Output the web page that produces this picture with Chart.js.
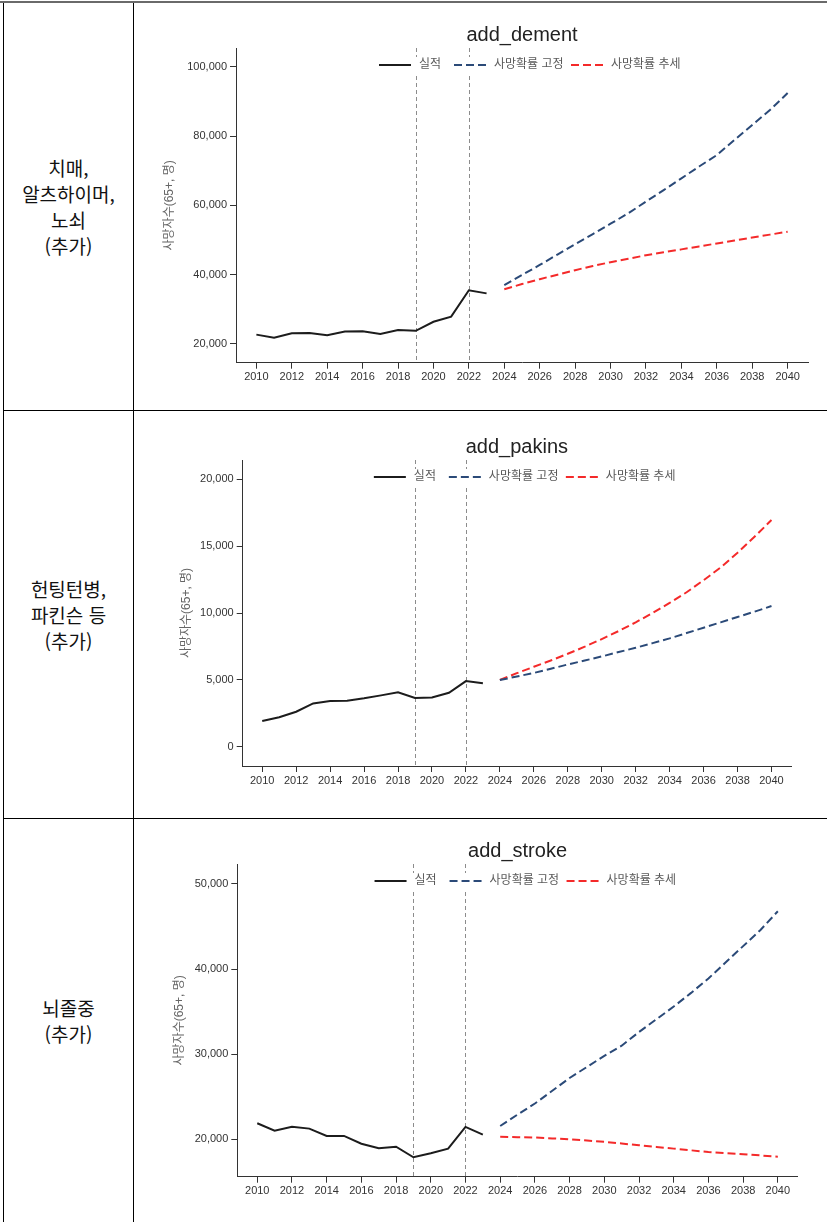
<!DOCTYPE html>
<html lang="ko">
<head>
<meta charset="utf-8">
<title>사망자수 전망 (65+)</title>
<script src="https://cdn.jsdelivr.net/npm/chart.js@4.4.1/dist/chart.umd.min.js"></script>
<style>
  html, body { margin: 0; padding: 0; background: #fff; }
  body { width: 827px; height: 1222px; position: relative; overflow: hidden; }
  .rule { position: absolute; background: #000; }
  .label {
    position: absolute; left: 4px; width: 129px;
    display: flex; align-items: center; justify-content: center; text-align: center;
    font-family: "Noto Sans CJK KR", "Noto Sans", sans-serif; font-size: 19px; line-height: 26px; color: #111;
  }
  canvas { position: absolute; left: 134px; }
</style>
</head>
<body>
<!-- table frame -->
<div class="rule" style="left:0;top:1px;width:827px;height:2px;background:#6a6a6a"></div>
<div class="rule" style="left:3px;top:3px;width:1px;height:1219px"></div>
<div class="rule" style="left:133px;top:3px;width:1px;height:1219px"></div>
<div class="rule" style="left:3px;top:410px;width:824px;height:1px"></div>
<div class="rule" style="left:3px;top:818px;width:824px;height:1px"></div>

<div class="label" style="top:4px;height:406px">치매,<br>알츠하이머,<br>노쇠<br>(추가)</div>
<div class="label" style="top:411px;height:407px">헌팅턴병,<br>파킨슨 등<br>(추가)</div>
<div class="label" style="top:819px;height:403px">뇌졸중<br>(추가)</div>

<canvas id="c1" width="693" height="406" style="top:4px"></canvas>
<canvas id="c2" width="693" height="407" style="top:411px"></canvas>
<canvas id="c3" width="693" height="403" style="top:819px"></canvas>

<script>
// ---- data ----
const actualYears = [2010, 2011, 2012, 2013, 2014, 2015, 2016, 2017, 2018, 2019, 2020, 2021, 2022, 2023];
const projYears = [2024, 2025, 2026, 2027, 2028, 2029, 2030, 2031, 2032, 2033, 2034, 2035, 2036, 2037, 2038, 2039, 2040];
const yearTicks = [2010, 2012, 2014, 2016, 2018, 2020, 2022, 2024, 2026, 2028, 2030, 2032, 2034, 2036, 2038, 2040];
const markerYears = [2019, 2022];

const seriesLabels = ['실적', '사망확률 고정', '사망확률 추세'];
const yAxisTitle = '사망자수(65+, 명)';

// add_dement
const dementActual = [22700, 21800, 23100, 23200, 22500, 23600, 23700, 22900, 24000, 23800, 26400, 27900, 35500, 34600];
const dementFixed = [37000, 39900, 42800, 45800, 48800, 51700, 54700, 57700, 61100, 64400, 67800, 71200, 74500, 78900, 83200, 87500, 92400];
const dementTrend = [35800, 37300, 38700, 40000, 41300, 42500, 43600, 44600, 45600, 46450, 47300, 48150, 49000, 49850, 50700, 51550, 52400];
const dementTicks = [20000, 40000, 60000, 80000, 100000];

// add_pakins
const pakinsActual = [1920, 2200, 2620, 3240, 3420, 3440, 3620, 3840, 4070, 3640, 3690, 4040, 4910, 4740];
const pakinsFixed = [4990, 5250, 5520, 5830, 6150, 6450, 6750, 7080, 7400, 7750, 8100, 8500, 8900, 9300, 9700, 10100, 10520];
const pakinsTrend = [5000, 5500, 5980, 6450, 6950, 7480, 8050, 8650, 9300, 10000, 10750, 11550, 12450, 13400, 14500, 15700, 16950];
const pakinsTicks = [0, 5000, 10000, 15000, 20000];

// add_stroke
const strokeActual = [21880, 21010, 21480, 21250, 20390, 20390, 19480, 18940, 19130, 17880, 18350, 18900, 21450, 20540];
const strokeFixed = [21560, 22900, 24200, 25700, 27200, 28500, 29800, 31000, 32600, 34100, 35600, 37200, 38900, 40800, 42700, 44600, 46800];
const strokeTrend = [20300, 20250, 20200, 20100, 20000, 19850, 19700, 19500, 19300, 19100, 18900, 18700, 18500, 18380, 18250, 18100, 17950];
const strokeTicks = [20000, 30000, 40000, 50000];

// ---- drawing ----
const FONT = '"Liberation Sans", "Noto Sans CJK KR", Arial, sans-serif';
const KFONT = '"Liberation Sans", "Noto Sans CJK KR", sans-serif';

function toPoints(xs, ys) { return xs.map((x, i) => ({ x: x, y: ys[i] })); }

// reference lines, title and in-plot legend
const decorations = {
  id: 'decorations',
  beforeDatasetsDraw(chart, args, opts) {
    const { ctx, chartArea, scales } = chart;
    ctx.save();
    ctx.strokeStyle = '#8c8c8c';
    ctx.lineWidth = 1;
    ctx.setLineDash([4, 3]);
    markerYears.forEach(yr => {
      const px = Math.round(scales.x.getPixelForValue(yr)) + 0.5;
      ctx.beginPath();
      ctx.moveTo(px, chartArea.top);
      ctx.lineTo(px, chartArea.bottom);
      ctx.stroke();
    });
    ctx.restore();
  },
  afterDatasetsDraw(chart, args, opts) {
    const { ctx, chartArea } = chart;
    const cx = (chartArea.left + chartArea.right) / 2;
    ctx.save();
    // title
    ctx.font = '20px ' + FONT;
    ctx.fillStyle = '#222';
    ctx.textAlign = 'center';
    ctx.textBaseline = 'middle';
    ctx.fillText(opts.title, cx, chartArea.top + opts.titleDy);

    // legend
    const ly = chartArea.top + opts.legendDy;
    ctx.font = '12px ' + KFONT;
    const dsets = chart.data.datasets;
    const lastStart = cx + opts.legendX[dsets.length - 1];
    const end = lastStart + 40 + ctx.measureText(dsets[dsets.length - 1].label).width;
    const start = cx + opts.legendX[0];
    ctx.fillStyle = '#fff';
    ctx.fillRect(start - 3, ly - 8, end - start + 6, 16);
    ctx.textAlign = 'left';
    dsets.forEach((ds, i) => {
      const x0 = cx + opts.legendX[i];
      ctx.strokeStyle = ds.borderColor;
      ctx.lineWidth = 2;
      ctx.setLineDash(ds.borderDash || []);
      ctx.beginPath();
      ctx.moveTo(x0, ly);
      ctx.lineTo(x0 + 32, ly);
      ctx.stroke();
      ctx.setLineDash([]);
      ctx.fillStyle = '#5a5a5a';
      ctx.fillText(ds.label, x0 + 40, ly);
    });
    ctx.restore();
  }
};

function makeChart(id, cfg) {
  const canvas = document.getElementById(id);
  return new Chart(canvas, {
    type: 'line',
    data: {
      datasets: [
        { label: seriesLabels[0], data: toPoints(actualYears, cfg.actual), borderColor: '#1c1c1c', borderWidth: 2, borderDash: [] },
        { label: seriesLabels[1], data: toPoints(projYears, cfg.fixed), borderColor: '#2b4a78', borderWidth: 2, borderDash: [8, 4] },
        { label: seriesLabels[2], data: toPoints(projYears, cfg.trend), borderColor: '#f42a2a', borderWidth: 2, borderDash: [8, 4] }
      ]
    },
    options: {
      responsive: false,
      animation: false,
      devicePixelRatio: 1,
      elements: { point: { radius: 0 }, line: { tension: 0, borderCapStyle: 'butt' } },
      layout: { padding: cfg.padding },
      plugins: {
        legend: { display: false },
        tooltip: { enabled: false },
        title: { display: false },
        decorations: { title: cfg.title, titleDy: -13, legendDy: 17, legendX: [-143, -68, 49] }
      },
      scales: {
        x: {
          type: 'linear',
          min: 2008.85,
          max: 2041.15,
          afterBuildTicks: ax => { ax.ticks = yearTicks.map(v => ({ value: v })); },
          afterFit: ax => { ax.height = 30; },
          grid: { drawOnChartArea: false, drawTicks: true, tickLength: 6, color: '#333', tickColor: '#333' },
          border: { display: true, color: '#333', width: 1 },
          ticks: { autoSkip: false, maxRotation: 0, padding: 2, color: '#333', font: { family: FONT, size: 11 }, callback: v => String(v) }
        },
        y: {
          type: 'linear',
          min: cfg.yMin,
          max: cfg.yMax,
          afterBuildTicks: ax => { ax.ticks = cfg.ticks.map(v => ({ value: v })); },
          afterFit: ax => { ax.width = cfg.yWidth; },
          grid: { drawOnChartArea: false, drawTicks: true, tickLength: 6, color: '#333', tickColor: '#333' },
          border: { display: true, color: '#333', width: 1 },
          ticks: { padding: 3, color: '#333', font: { family: FONT, size: 11 }, callback: v => v.toLocaleString('en-US') },
          title: { display: true, text: yAxisTitle, color: '#666', font: { family: KFONT, size: 12 }, padding: { top: cfg.yTitlePad, bottom: 0 } }
        }
      }
    },
    plugins: [decorations]
  });
}

makeChart('c1', {
  title: 'add_dement', actual: dementActual, fixed: dementFixed, trend: dementTrend, ticks: dementTicks,
  yMin: 14600, yMax: 105400, yWidth: 102, yTitlePad: 28.3,
  padding: { left: 0, right: 19, top: 44, bottom: 17.3 }
});
makeChart('c2', {
  title: 'add_pakins', actual: pakinsActual, fixed: pakinsFixed, trend: pakinsTrend, ticks: pakinsTicks,
  yMin: -1440, yMax: 21440, yWidth: 108.7, yTitlePad: 45.3,
  padding: { left: 0, right: 36, top: 49, bottom: 22 }
});
makeChart('c3', {
  title: 'add_stroke', actual: strokeActual, fixed: strokeFixed, trend: strokeTrend, ticks: strokeTicks,
  yMin: 15600, yMax: 52350, yWidth: 103.3, yTitlePad: 38.8,
  padding: { left: 0, right: 29.2, top: 45, bottom: 15.3 }
});
</script>
</body>
</html>
